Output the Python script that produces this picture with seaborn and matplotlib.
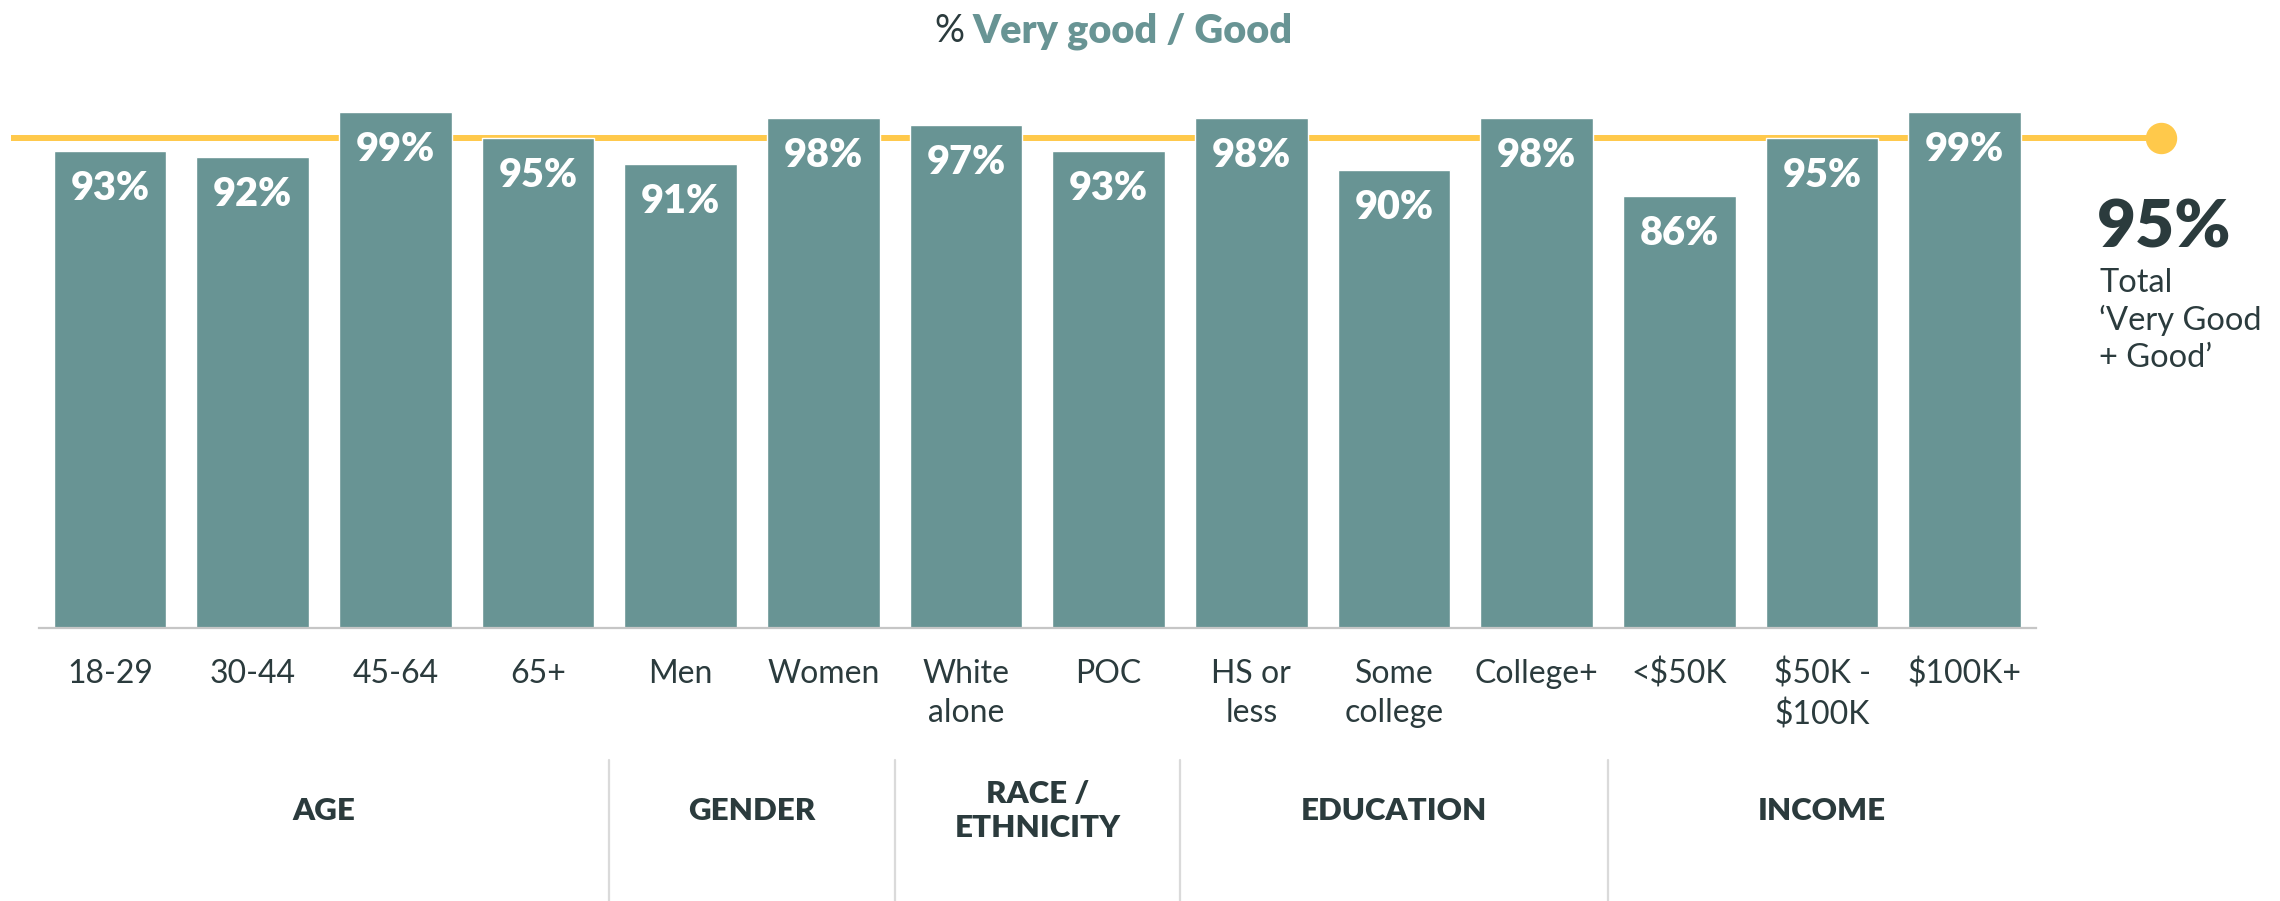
import matplotlib
matplotlib.use("Agg")
import matplotlib.pyplot as plt
import matplotlib.transforms as mtransforms
import pandas as pd
import seaborn as sns

# ---- data -------------------------------------------------------------
categories = ["18-29", "30-44", "45-64", "65+", "Men", "Women", "White\nalone",
              "POC", "HS or\nless", "Some\ncollege", "College+", "<$50K",
              "$50K -\n$100K", "$100K+"]
values = [93, 92, 99, 95, 91, 98, 97, 93, 98, 90, 98, 86, 95, 99]
groups = ["AGE", "GENDER", "RACE /\nETHNICITY", "EDUCATION", "INCOME"]
group_sizes = [4, 2, 2, 3, 3]
total_value = 95

# ---- style ------------------------------------------------------------
TEAL = "#689494"
DARK = "#2b3b3d"
YELLOW = "#ffc94b"
BASE_GREY = "#c6c6c6"
SEP_GREY = "#dadada"

sns.set_theme(style="white")
plt.rcParams["font.family"] = ["Lato", "DejaVu Sans"]

W, H = 2280, 901
fig = plt.figure(figsize=(W / 100, H / 100), dpi=100)
fig.patch.set_facecolor("white")

# axes box in pixel terms
ax_left, ax_right, ax_bottom, ax_top = 38.7, 2036.0, 628.0, 60.4
ax = fig.add_axes([ax_left / W, 1 - ax_bottom / H,
                   (ax_right - ax_left) / W, (ax_bottom - ax_top) / H])

df = pd.DataFrame({"group": categories, "pct": values})
sns.barplot(data=df, x="group", y="pct", order=categories, color=TEAL,
            saturation=1, width=0.79, ax=ax, zorder=3)

ax.set_xlim(-0.5, len(categories) - 0.5)
ax.set_ylim(19, 107)
ax.set_xlabel("")
ax.set_ylabel("")
ax.set_yticks([])
ax.set_xticks(range(len(categories)))
ax.set_xticklabels(categories, fontsize=23, color=DARK, linespacing=1.38,
                   fontweight="normal")
ax.tick_params(axis="x", length=0, pad=22)
for side in ("left", "right", "top"):
    ax.spines[side].set_visible(False)
ax.spines["bottom"].set_color(BASE_GREY)
ax.spines["bottom"].set_linewidth(1.6)
ax.spines["bottom"].set_zorder(4)

# value labels inside the top of each bar
for i, v in enumerate(values):
    ax.annotate(f"{v}%", (i, v), xytext=(0, -35.3), textcoords="offset points",
                ha="center", va="baseline", color="white", fontsize=28.5,
                fontweight="heavy", zorder=5)

# overall total reference line with end dot
line_x0, line_x1 = -0.696, 14.378
ax.plot([line_x0, line_x1], [total_value, total_value], color=YELLOW,
        lw=4.3, solid_capstyle="butt", clip_on=False, zorder=1)
ax.plot([line_x1], [total_value], marker="o", ms=21.6, color=YELLOW,
        mec=YELLOW, clip_on=False, zorder=1)

# right-hand total annotation
fig.text(2097 / W, 1 - 247 / H, f"{total_value}%", ha="left", va="baseline",
         fontsize=48.5, fontweight="heavy", color=DARK)
for txt, base in [("Total", 292), ("\u2018Very Good", 330), ("+ Good\u2019", 367)]:
    fig.text(2099 / W, 1 - base / H, txt, ha="left", va="baseline",
             fontsize=23.5, fontweight="normal", color=DARK)

# title: "% Very good / Good"
fig.text(964 / W, 1 - 42 / H, "%", ha="right", va="baseline", fontsize=27,
         fontweight="normal", color=DARK)
fig.text(973 / W, 1 - 42 / H, "Very good / Good", ha="left", va="baseline",
         fontsize=28.5, fontweight="heavy", color=TEAL)

# group labels and separators below the categories
trans = mtransforms.blended_transform_factory(ax.transData, fig.transFigure)
start = 0
for gi, (name, n) in enumerate(zip(groups, group_sizes)):
    center = start + (n - 1) / 2
    ax.text(center, 1 - 811 / H, name, transform=trans, ha="center",
            va="center", fontsize=22.5, fontweight="heavy", color=DARK,
            linespacing=1.3)
    start += n
    if gi < len(groups) - 1:
        ax.plot([start - 0.5, start - 0.5], [1 - 760 / H, 0], transform=trans,
                color=SEP_GREY, lw=1.6, clip_on=False)

fig.savefig("out.png", dpi=100, facecolor="white")
